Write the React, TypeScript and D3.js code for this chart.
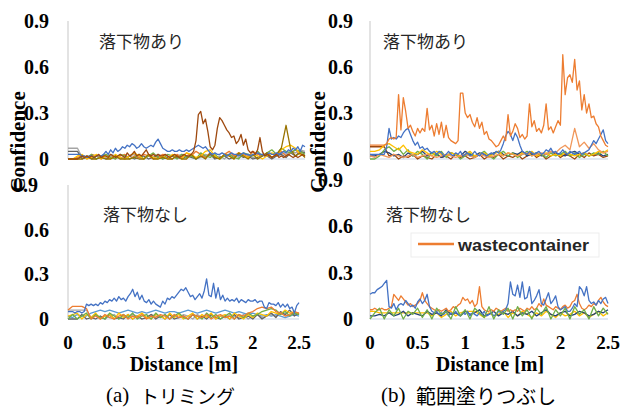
import React from 'react';
import * as d3 from 'd3';

// ---------- tick labels ----------
const X_TICKS = [0, 0.5, 1, 1.5, 2, 2.5];
const X_TICK_LABELS = ['0', '0.5', '1', '1.5', '2', '2.5'];
const Y_TICKS = [0, 0.3, 0.6, 0.9];
const Y_TICK_LABELS = ['0', '0.3', '0.6', '0.9'];
const X_MAX = 2.5;
const Y_MAX = 0.9;

// Excel office palette
const C_BLUE = '#4472C4';
const C_ORANGE = '#ED7D31';
const C_GRAY = '#A5A5A5';
const C_YELLOW = '#FFC000';
const C_LIGHTBLUE = '#5B9BD5';
const C_GREEN = '#70AD47';
const C_DARKBLUE = '#264478';
const C_BROWN = '#9E480E';
const C_DARKGRAY = '#636363';
const C_OLIVE = '#997300';
const C_LIGHTORANGE = '#F1975A';

// ---------- (a) 落下物あり ----------
const tlBrown = [
  0, 0, 0, 0, 0, 0.01, 0.02, 0.01, 0.02, 0.01,
  0.02, 0.01, 0.02, 0.03, 0.01, 0.02, 0.02, 0.01, 0.03, 0.02,
  0.01, 0.02, 0.03, 0.02, 0.01, 0.04, 0.02, 0.03, 0.05, 0.02,
  0.03, 0.02, 0.04, 0.06, 0.03, 0.02, 0.03, 0.02, 0.03, 0.02,
  0.02, 0.03, 0.02, 0.01, 0.02, 0.03, 0.02, 0.01, 0.02, 0.03,
  0.02, 0.02, 0.03, 0.05, 0.12, 0.29, 0.31, 0.23, 0.26, 0.18,
  0.08, 0.06, 0.09, 0.2, 0.27, 0.25, 0.22, 0.19, 0.17, 0.14,
  0.15, 0.1, 0.12, 0.16, 0.09, 0.13, 0.06, 0.04, 0.05, 0.03,
  0.06, 0.14, 0.05, 0.02, 0.03, 0.02, 0.01, 0.02, 0.03, 0.01,
  0.02, 0.01, 0.02, 0.03, 0.02, 0.01, 0.02, 0.01, 0.02, 0.03,
  0.02,
];
const tlBlue = [
  0.03, 0.03, 0.03, 0.03, 0.03, 0.03, 0.02, 0.02, 0.01, 0.02,
  0.02, 0.01, 0.02, 0.02, 0.02, 0.03, 0.05, 0.03, 0.06, 0.04,
  0.07, 0.05, 0.06, 0.08, 0.07, 0.09, 0.08, 0.1, 0.09, 0.07,
  0.08, 0.1, 0.08, 0.07, 0.08, 0.09, 0.08, 0.11, 0.13, 0.1,
  0.07, 0.06, 0.05, 0.05, 0.06, 0.05, 0.05, 0.06, 0.05, 0.05,
  0.06, 0.05, 0.06, 0.07, 0.08, 0.09, 0.08, 0.07, 0.08, 0.06,
  0.04, 0.03, 0.04, 0.03, 0.03, 0.04, 0.03, 0.02, 0.03, 0.04,
  0.03, 0.03, 0.02, 0.03, 0.04, 0.03, 0.03, 0.02, 0.03, 0.03,
  0.04, 0.03, 0.03, 0.02, 0.03, 0.04, 0.03, 0.03, 0.04, 0.03,
  0.04, 0.05, 0.04, 0.06, 0.05, 0.07, 0.06, 0.08, 0.05, 0.09,
  0.08,
];
const tlOlive = [
  0, 0, 0, 0, 0.02, 0, 0, 0.01, 0, 0,
  0.02, 0, 0, 0, 0.01, 0, 0, 0.03, 0, 0,
  0.01, 0, 0, 0.02, 0, 0, 0.03, 0, 0.02, 0,
  0.04, 0.01, 0, 0.03, 0.02, 0, 0.04, 0.02, 0, 0.03,
  0, 0.02, 0.04, 0.01, 0.03, 0.07, 0.22, 0.06, 0.02, 0.04,
  0.01,
];
const tlYellow = [
  0, 0, 0.02, 0.03, 0, 0.01, 0.03, 0, 0.02, 0,
  0.03, 0.01, 0, 0.02, 0.04, 0.02, 0, 0.03, 0.01, 0,
  0.02, 0, 0.03, 0.02, 0, 0.04, 0.03, 0.01, 0.02, 0.05,
  0.06, 0.02, 0, 0.03, 0.02, 0, 0.04, 0.02, 0.01, 0.03,
  0.02, 0, 0.02, 0.04, 0.03, 0.06, 0.08, 0.09, 0.07, 0.03,
  0.02,
];
const tlGreen = [
  0, 0, 0, 0.02, 0.01, 0.03, 0, 0.02, 0.03, 0.01,
  0, 0.03, 0.02, 0, 0.01, 0.03, 0, 0.02, 0.04, 0.01,
  0, 0.03, 0.02, 0, 0.03, 0.01, 0.02, 0, 0.04, 0.02,
  0.01, 0.03, 0, 0.02, 0.03, 0.01, 0, 0.04, 0.03, 0.02,
  0.05, 0.02, 0.04, 0.06, 0.03, 0.07, 0.05, 0.04, 0.06, 0.05,
  0.03,
];
const tlOrange = [
  0, 0, 0.01, 0.02, 0, 0.03, 0.02, 0, 0.03, 0.01,
  0, 0.02, 0.03, 0, 0.02, 0.01, 0.03, 0.02, 0, 0.01,
  0.03, 0.02, 0, 0.03, 0.01, 0.04, 0.02, 0.05, 0.03, 0.01,
  0.04, 0.02, 0, 0.03, 0.05, 0.02, 0.04, 0.03, 0.01, 0.05,
  0.03, 0.02, 0.04, 0.01, 0.03, 0.05, 0.02, 0.04, 0.06, 0.03,
  0.02,
];
const tlGray = [
  0.07, 0.07, 0.07, 0.01, 0.02, 0.01, 0, 0.02, 0.01, 0.03,
  0.02, 0, 0.01, 0.02, 0.03, 0.01, 0, 0.02, 0.01, 0.03,
  0.02, 0.01, 0, 0.02, 0.03, 0.01, 0.02, 0, 0.01, 0.03,
  0.02, 0.01, 0.02, 0, 0.03, 0.02, 0.01, 0.02, 0.03, 0.01,
  0, 0.02, 0.03, 0.01, 0.02, 0.04, 0.03, 0.05, 0.04, 0.06,
  0.05,
];
const tlDarkGray = [
  0.05, 0.05, 0.05, 0, 0.01, 0, 0.02, 0.01, 0, 0.01,
  0.02, 0.01, 0, 0.02, 0, 0.01, 0.02, 0, 0.01, 0.02,
  0, 0.01, 0.02, 0.01, 0, 0.02, 0.01, 0, 0.02, 0.01,
  0.03, 0, 0.01, 0.02, 0, 0.01, 0.03, 0.01, 0.02, 0,
  0.01, 0.03, 0.02, 0, 0.02, 0.03, 0.01, 0.04, 0.02, 0.05,
  0.04,
];

// ---------- (b) 落下物あり ----------
const trOrange = [
  0.09, 0.09, 0.09, 0.09, 0.09, 0.09, 0.09, 0.1, 0.13, 0.14,
  0.13, 0.14, 0.42, 0.19, 0.4, 0.31, 0.2, 0.22, 0.18, 0.15,
  0.2, 0.17, 0.2, 0.18, 0.33, 0.19, 0.22, 0.15, 0.23, 0.16,
  0.24, 0.14, 0.22, 0.14, 0.12, 0.11, 0.1, 0.12, 0.43, 0.43,
  0.3, 0.27, 0.29, 0.24, 0.21, 0.27, 0.2, 0.24, 0.16, 0.18,
  0.13, 0.12, 0.1, 0.08, 0.09, 0.12, 0.15, 0.12, 0.29, 0.15,
  0.18, 0.23, 0.2, 0.14, 0.16, 0.13, 0.15, 0.36, 0.21, 0.25,
  0.18, 0.2, 0.17, 0.22, 0.36, 0.19, 0.21, 0.17, 0.21, 0.25,
  0.22, 0.68, 0.42, 0.53, 0.55, 0.5, 0.65, 0.45, 0.51, 0.32,
  0.42, 0.3, 0.36, 0.27, 0.28, 0.23, 0.21, 0.15, 0.12, 0.09,
  0.08,
];
const trBlue = [
  0.03, 0.03, 0.03, 0.03, 0.03, 0.03, 0.03, 0.08, 0.2, 0.13,
  0.14, 0.13, 0.15, 0.14, 0.17, 0.19, 0.2, 0.16, 0.12, 0.09,
  0.11, 0.07, 0.08, 0.06, 0.07, 0.05, 0.04, 0.05, 0.03, 0.05,
  0.04, 0.02, 0.03, 0.05, 0.03, 0.02, 0.04, 0.03, 0.05, 0.02,
  0.03, 0.04, 0.02, 0.03, 0.05, 0.03, 0.02, 0.04, 0.03, 0.02,
  0.03, 0.04, 0.03, 0.05, 0.04, 0.06, 0.1, 0.15, 0.18, 0.16,
  0.12, 0.17, 0.14, 0.09, 0.05, 0.04, 0.03, 0.05, 0.04, 0.03,
  0.04, 0.05, 0.03, 0.04, 0.06, 0.05, 0.07, 0.04, 0.05, 0.03,
  0.04, 0.06, 0.04, 0.03, 0.05, 0.04, 0.03, 0.04, 0.05, 0.03,
  0.04, 0.05, 0.06, 0.09, 0.12, 0.1, 0.13, 0.16, 0.19, 0.12,
  0.1,
];
const trOrangeLow = [
  0.02, 0.01, 0.03, 0.02, 0.01, 0.03, 0.02, 0.01, 0.02, 0.03,
  0.01, 0.02, 0.03, 0.02, 0.01, 0.02, 0.03, 0.02, 0.01, 0.02,
  0.03, 0.02, 0.01, 0.03, 0.02, 0.01, 0.02, 0.03, 0.02, 0.04,
  0.03, 0.02, 0.03, 0.04, 0.02, 0.03, 0.04, 0.03, 0.05, 0.04,
  0.07, 0.09, 0.06, 0.2, 0.08, 0.11, 0.07, 0.1, 0.06, 0.04,
  0.05,
];
const trBrown = [
  0.08, 0.08, 0.08, 0.08, 0.02, 0.03, 0, 0.02, 0.01, 0.03,
  0, 0.02, 0.01, 0, 0.03, 0.01, 0.02, 0, 0.03, 0.01,
  0.02, 0, 0.01, 0.03, 0, 0.02, 0.01, 0.03, 0, 0.02,
  0.01, 0.03, 0, 0.02, 0.04, 0.01, 0.03, 0, 0.02, 0.04,
  0.01, 0.03, 0.02, 0, 0.03, 0.01, 0.04, 0.02, 0.03, 0.01,
  0.02,
];
const trYellow = [
  0.05, 0.05, 0.06, 0.09, 0.1, 0.08, 0.06, 0.09, 0.05, 0.04,
  0.03, 0.06, 0.04, 0.02, 0.05, 0.03, 0.02, 0.04, 0.03, 0.02,
  0.03, 0.05, 0.02, 0.03, 0.04, 0.02, 0.03, 0.05, 0.02, 0.04,
  0.03, 0.02, 0.04, 0.03, 0.05, 0.02, 0.03, 0.04, 0.02, 0.03,
  0.02, 0.04, 0.03, 0.02, 0.03, 0.04, 0.02, 0.03, 0.05, 0.04,
  0.06,
];
const trGreen = [
  0, 0, 0.02, 0.06, 0.08, 0.05, 0.07, 0.03, 0.06, 0.02,
  0.05, 0.03, 0, 0.04, 0.02, 0.05, 0.01, 0.04, 0.03, 0,
  0.02, 0.04, 0.01, 0.03, 0.05, 0.02, 0, 0.03, 0.05, 0.02,
  0.04, 0.01, 0.03, 0.05, 0.02, 0.04, 0.03, 0.01, 0.04, 0.02,
  0.03, 0.05, 0.02, 0.04, 0.01, 0.03, 0.02, 0.04, 0.03, 0.05,
  0.02,
];
const trDarkBlue = [
  0.02, 0.02, 0.03, 0.05, 0.04, 0.02, 0.03, 0.01, 0.04, 0.02,
  0.03, 0.05, 0.02, 0.04, 0.03, 0.01, 0.02, 0.04, 0.03, 0.02,
  0.05, 0.03, 0.02, 0.04, 0.03, 0.02, 0.04, 0.05, 0.03, 0.02,
  0.04, 0.03, 0.05, 0.02, 0.03, 0.04, 0.02, 0.03, 0.05, 0.04,
  0.03, 0.02, 0.04, 0.05, 0.03, 0.04, 0.02, 0.03, 0.04, 0.02,
  0.03,
];

// ---------- (a) 落下物なし ----------
const blBlue = [
  0.05, 0.05, 0.05, 0.04, 0.05, 0.05, 0.04, 0.05, 0.1, 0.09,
  0.1, 0.09, 0.1, 0.09, 0.11, 0.1, 0.12, 0.11, 0.13, 0.12,
  0.14, 0.12, 0.15, 0.13, 0.14, 0.12, 0.15, 0.17, 0.2, 0.15,
  0.18, 0.13, 0.16, 0.12, 0.11, 0.13, 0.1, 0.12, 0.1, 0.09,
  0.08, 0.12, 0.1, 0.14, 0.13, 0.15, 0.14, 0.16, 0.18, 0.2,
  0.19, 0.21, 0.18, 0.15, 0.16, 0.13, 0.15, 0.17, 0.14, 0.19,
  0.27, 0.16, 0.15, 0.24, 0.14, 0.21, 0.13, 0.16, 0.12, 0.14,
  0.12, 0.13, 0.12, 0.14, 0.11, 0.13, 0.12, 0.11, 0.13, 0.12,
  0.12, 0.13, 0.11, 0.12, 0.12, 0.08, 0.07, 0.11, 0.1, 0.1,
  0.09, 0.11, 0.08, 0.1, 0.08, 0.1, 0.07, 0.08, 0.04, 0.09,
  0.11,
];
const blOrange = [
  0.06, 0.085, 0.085, 0.085, 0.07, 0, 0.02, 0, 0.03, 0.01,
  0, 0.02, 0.03, 0, 0.02, 0.01, 0.03, 0, 0.02, 0.01,
  0.03, 0.02, 0, 0.03, 0.01, 0.02, 0, 0.03, 0.02, 0.01,
  0.03, 0, 0.02, 0.03, 0.01, 0.02, 0, 0.03, 0.02, 0.04,
  0.05, 0.07, 0.08, 0.07, 0.08, 0.05, 0.04, 0.02, 0.03, 0.05,
  0.04,
];
const blGray = [
  0.06, 0.06, 0.06, 0.06, 0.06, 0.01, 0.03, 0, 0.02, 0.01,
  0.03, 0, 0.02, 0.01, 0.03, 0.02, 0, 0.01, 0.03, 0.02,
  0.01, 0.03, 0, 0.02, 0.01, 0.03, 0.02, 0, 0.03, 0.01,
  0.02, 0.03, 0, 0.02, 0.01, 0.03, 0.02, 0.01, 0.03, 0,
  0.02, 0.03, 0.01, 0.02, 0.03, 0.02, 0.04, 0.03, 0.02, 0.04,
  0.03,
];
const blLightBlue = [
  0.02, 0.01, 0.03, 0.02, 0.02, 0.04, 0.05, 0.06, 0.05, 0.06,
  0.05, 0.04, 0.05, 0.06, 0.05, 0.04, 0.05, 0.04, 0.05, 0.06,
  0.05, 0.04, 0.05, 0.05, 0.04, 0.05, 0.06, 0.05, 0.04, 0.05,
  0.06, 0.05, 0.04, 0.05, 0.06, 0.05, 0.04, 0.05, 0.04, 0.03,
  0.04, 0.03, 0.02, 0.03, 0.02, 0.03, 0.02, 0.01, 0.02, 0.03,
  0.02,
];
const blGreen = [
  0, 0.03, 0, 0.02, 0.04, 0, 0.03, 0.01, 0, 0.04,
  0.02, 0, 0.03, 0.01, 0.04, 0, 0.02, 0.03, 0, 0.04,
  0.01, 0.03, 0, 0.02, 0.04, 0.01, 0, 0.03, 0.02, 0,
  0.04, 0.01, 0.03, 0, 0.02, 0.04, 0, 0.03, 0.01, 0.04,
  0.02, 0.03, 0.05, 0.06, 0.07, 0.06, 0.03, 0.05, 0.02, 0.04,
  0.03,
];
const blYellow = [
  0.02, 0.03, 0.04, 0, 0.03, 0.01, 0.04, 0, 0.02, 0.03,
  0, 0.04, 0.01, 0.03, 0, 0.02, 0.04, 0.01, 0, 0.03,
  0.02, 0, 0.04, 0.01, 0.03, 0, 0.02, 0.04, 0, 0.03,
  0.01, 0.04, 0, 0.02, 0.03, 0, 0.04, 0.02, 0, 0.03,
  0.01, 0.04, 0.03, 0.02, 0.05, 0.04, 0.03, 0.06, 0.04, 0.05,
  0.03,
];
const blDarkGray = [
  0, 0, 0, 0.03, 0, 0.01, 0, 0.02, 0, 0.03,
  0, 0.01, 0, 0.03, 0, 0.02, 0, 0.01, 0.03, 0,
  0.02, 0, 0.03, 0, 0.01, 0.02, 0, 0.03, 0, 0.02,
  0, 0.03, 0.01, 0, 0.02, 0, 0.03, 0, 0.01, 0.02,
  0, 0.03, 0, 0.02, 0.04, 0.01, 0.05, 0.03, 0.06, 0.02,
  0.04,
];

// ---------- (b) 落下物なし ----------
const brBlue = [
  0.16, 0.17, 0.17, 0.19, 0.2, 0.21, 0.23, 0.25, 0.08, 0.07,
  0.1, 0.06, 0.09, 0.1, 0.09, 0.12, 0.1, 0.08, 0.09, 0.07,
  0.11, 0.13, 0.1, 0.12, 0.16, 0.08, 0.05, 0.04, 0.05, 0.03,
  0.04, 0.03, 0.05, 0.02, 0.04, 0.03, 0.05, 0.03, 0.02, 0.04,
  0.03, 0.05, 0.02, 0.04, 0.03, 0.02, 0.04, 0.03, 0.05, 0.02,
  0.03, 0.04, 0.02, 0.03, 0.05, 0.04, 0.05, 0.06, 0.1, 0.24,
  0.16, 0.15, 0.22, 0.14, 0.24, 0.13, 0.14, 0.21, 0.1, 0.12,
  0.15, 0.19, 0.1, 0.09, 0.13, 0.17, 0.1, 0.12, 0.15, 0.08,
  0.06, 0.07, 0.08, 0.05, 0.05, 0.07, 0.1, 0.08, 0.21, 0.19,
  0.15, 0.21, 0.12, 0.1, 0.11, 0.09, 0.12, 0.1, 0.13, 0.14,
  0.1,
];
const brOrange = [
  0.06, 0.06, 0.07, 0.06, 0.06, 0.07, 0.06, 0.06, 0.07, 0.08,
  0.16, 0.14, 0.12, 0.15, 0.13, 0.11, 0.09, 0.1, 0.08, 0.09,
  0.1, 0.12, 0.17, 0.12, 0.1, 0.08, 0.07, 0.06, 0.05, 0.06,
  0.05, 0.06, 0.07, 0.05, 0.06, 0.08, 0.07, 0.09, 0.1, 0.14,
  0.12, 0.13, 0.1, 0.12, 0.08, 0.1, 0.21, 0.08, 0.06, 0.05,
  0.05, 0.06, 0.05, 0.07, 0.06, 0.05, 0.06, 0.07, 0.05, 0.06,
  0.05, 0.06, 0.05, 0.07, 0.06, 0.05, 0.07, 0.06, 0.08, 0.06,
  0.07, 0.1, 0.08, 0.13, 0.09, 0.08, 0.07, 0.06, 0.08, 0.07,
  0.06, 0.08, 0.09, 0.07, 0.08, 0.11, 0.12, 0.16, 0.1, 0.07,
  0.06, 0.07, 0.09, 0.08, 0.1, 0.09, 0.12, 0.14, 0.11, 0.09,
  0.08,
];
const brYellow = [
  0.05, 0.05, 0.04, 0.04, 0.04, 0.04, 0.04, 0.04, 0.04, 0.04,
  0.04, 0.04, 0.04, 0.02, 0.04, 0.01, 0.03, 0.05, 0.02, 0.04,
  0.05, 0.05, 0.05, 0.03, 0.01, 0.04, 0.02, 0.03, 0.05, 0.01,
  0.04, 0.02, 0.05, 0.03, 0.01, 0.04, 0.02, 0.05, 0.03, 0.01,
  0.04, 0.02, 0.03, 0.05, 0.02, 0.04, 0.01, 0.03, 0.05, 0.02,
  0.04,
];
const brGreen = [
  0, 0.04, 0.07, 0, 0.06, 0.02, 0.07, 0, 0.05, 0.03,
  0.07, 0.01, 0.06, 0, 0.07, 0.03, 0.05, 0, 0.08, 0.02,
  0.06, 0, 0.07, 0.04, 0.01, 0.08, 0, 0.06, 0.03, 0.07,
  0, 0.08, 0.02, 0.06, 0, 0.07, 0.03, 0.08, 0, 0.06,
  0.02, 0.07, 0, 0.08, 0.03, 0.06, 0, 0.08, 0.02, 0.07,
  0.03,
];
const brDarkBlue = [
  0.02, 0.02, 0.03, 0.02, 0.04, 0.02, 0.03, 0.05, 0.02, 0.04,
  0.03, 0.02, 0.05, 0.03, 0.04, 0.02, 0.06, 0.03, 0.04, 0.02,
  0.05, 0.03, 0.04, 0.06, 0.02, 0.03, 0.05, 0.02, 0.04, 0.03,
  0.05, 0.02, 0.04, 0.03, 0.05, 0.02, 0.04, 0.06, 0.03, 0.02,
  0.04, 0.05, 0.02, 0.03, 0.05, 0.04, 0.02, 0.03, 0.05, 0.04,
  0.06,
];

const LEGEND_LABEL = 'wastecontainer';

type Series = { values: number[]; color: string };
type Panel = {
  key: string;
  x0: number; x1: number; yTop: number; yBottom: number;
  title: string; titleX: number; titleY: number;
  labelRight: number; topLabelRight: number;
  showX: boolean;
  series: Series[];
};

const PANELS: Panel[] = [
  {
    key: 'tl', x0: 68, x1: 305, yTop: 21, yBottom: 159,
    title: '落下物あり', titleX: 99, titleY: 40,
    labelRight: 49, topLabelRight: 49, showX: false,
    series: [
      { values: tlGray, color: C_GRAY },
      { values: tlDarkGray, color: C_DARKGRAY },
      { values: tlOrange, color: C_ORANGE },
      { values: tlGreen, color: C_GREEN },
      { values: tlYellow, color: C_YELLOW },
      { values: tlOlive, color: C_OLIVE },
      { values: tlBlue, color: C_BLUE },
      { values: tlBrown, color: C_BROWN },
    ],
  },
  {
    key: 'tr', x0: 370, x1: 608, yTop: 21, yBottom: 159,
    title: '落下物あり', titleX: 383, titleY: 40,
    labelRight: 353, topLabelRight: 353, showX: false,
    series: [
      { values: trBrown, color: C_BROWN },
      { values: trDarkBlue, color: C_DARKBLUE },
      { values: trGreen, color: C_GREEN },
      { values: trYellow, color: C_YELLOW },
      { values: trOrangeLow, color: C_LIGHTORANGE },
      { values: trBlue, color: C_BLUE },
      { values: trOrange, color: C_ORANGE },
    ],
  },
  {
    key: 'bl', x0: 68, x1: 299, yTop: 185, yBottom: 319,
    title: '落下物なし', titleX: 103, titleY: 213,
    labelRight: 49, topLabelRight: 38, showX: true,
    series: [
      { values: blLightBlue, color: C_LIGHTBLUE },
      { values: blGray, color: C_GRAY },
      { values: blDarkGray, color: C_DARKGRAY },
      { values: blYellow, color: C_YELLOW },
      { values: blGreen, color: C_GREEN },
      { values: blOrange, color: C_ORANGE },
      { values: blBlue, color: C_BLUE },
    ],
  },
  {
    key: 'br', x0: 370, x1: 608, yTop: 180, yBottom: 319,
    title: '落下物なし', titleX: 386, titleY: 213,
    labelRight: 353, topLabelRight: 343, showX: true,
    series: [
      { values: brYellow, color: C_YELLOW },
      { values: brDarkBlue, color: C_DARKBLUE },
      { values: brOrange, color: C_ORANGE },
      { values: brBlue, color: C_BLUE },
      { values: brGreen, color: C_GREEN },
    ],
  },
];

const SERIF = '"Liberation Serif", "Times New Roman", serif';
const CJK = '"Noto Sans CJK JP", sans-serif';

function PanelView({ p }: { p: Panel }) {
  const x = d3.scaleLinear().domain([0, X_MAX]).range([p.x0, p.x1]);
  const y = d3.scaleLinear().domain([0, Y_MAX]).range([p.yBottom, p.yTop]);
  return (
    <g>
      <line x1={p.x0} x2={p.x0} y1={p.yTop} y2={p.yBottom} stroke="#D0D0D0" strokeWidth={1.2} />
      <line x1={p.x0} x2={p.x1} y1={p.yBottom} y2={p.yBottom} stroke="#C8D4E6" strokeWidth={1.2} />
      {p.series.map((s, si) => {
        const step = X_MAX / (s.values.length - 1);
        const line = d3.line<number>().x((_, i) => x(i * step)).y((v) => y(v));
        return (
          <path key={si} d={line(s.values) || ''} fill="none" stroke={s.color}
            strokeWidth={1.3} strokeLinejoin="round" />
        );
      })}
      {Y_TICKS.map((t, i) => (
        <text key={i} x={i === Y_TICKS.length - 1 ? p.topLabelRight : p.labelRight} y={y(t)}
          textAnchor="end" dominantBaseline="central" fontFamily={SERIF}
          fontWeight="bold" fontSize={20} fill="#000">{Y_TICK_LABELS[i]}</text>
      ))}
      {p.showX && X_TICKS.map((t, i) => (
        <text key={i} x={x(t)} y={342} textAnchor="middle" dominantBaseline="central"
          fontFamily={SERIF} fontWeight="bold" fontSize={19} fill="#000">{X_TICK_LABELS[i]}</text>
      ))}
      <text x={p.titleX} y={p.titleY} dominantBaseline="central" fontFamily={CJK}
        fontSize={17} fill="#262626">{p.title}</text>
    </g>
  );
}

export default function App() {
  return (
    <svg width={622} height={408} style={{ position: 'absolute', left: 0, top: 0, background: '#fff' }}>
      <rect x={0} y={0} width={622} height={408} fill="#fff" />
      {PANELS.map((p) => <PanelView key={p.key} p={p} />)}
      {/* y-axis titles */}
      <text transform="translate(18,142) rotate(-90)" textAnchor="middle" dominantBaseline="central"
        fontFamily={SERIF} fontWeight="bold" fontSize={21}>Confidence</text>
      <text transform="translate(318,142) rotate(-90)" textAnchor="middle" dominantBaseline="central"
        fontFamily={SERIF} fontWeight="bold" fontSize={21}>Confidence</text>
      {/* x-axis titles */}
      <text x={184} y={364} textAnchor="middle" dominantBaseline="central" fontFamily={SERIF}
        fontWeight="bold" fontSize={20}>Distance [m]</text>
      <text x={490} y={364} textAnchor="middle" dominantBaseline="central" fontFamily={SERIF}
        fontWeight="bold" fontSize={20}>Distance [m]</text>
      {/* legend */}
      <rect x={411} y={233} width={188} height={24} fill="#fff" stroke="#EDEDED" strokeWidth={1} />
      <line x1={418} x2={454} y1={244} y2={244} stroke={C_ORANGE} strokeWidth={2.5} />
      <text x={458} y={245} dominantBaseline="central" fontFamily='"Liberation Sans", Arial, sans-serif'
        fontWeight="bold" fontSize={17} fill="#262626" textLength={131} lengthAdjust="spacingAndGlyphs">{LEGEND_LABEL}</text>
      {/* captions */}
      <text x={106} y={395} dominantBaseline="central" fontFamily={SERIF} fontSize={21}>(a)</text>
      <text x={140} y={395} dominantBaseline="central" fontFamily={CJK} fontSize={19}>トリミング</text>
      <text x={381} y={395} dominantBaseline="central" fontFamily={SERIF} fontSize={21}>(b)</text>
      <text x={416} y={395} dominantBaseline="central" fontFamily={CJK} fontSize={20}>範囲塗りつぶし</text>
    </svg>
  );
}
